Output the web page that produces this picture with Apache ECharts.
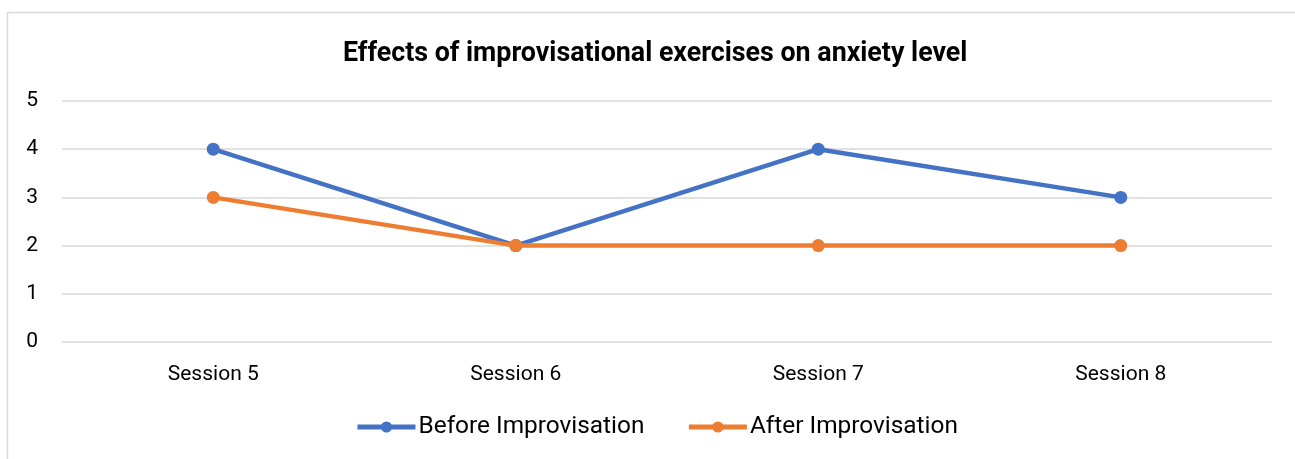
<!DOCTYPE html>
<html><head><meta charset="utf-8">
<script src="https://cdn.jsdelivr.net/npm/echarts@6/dist/echarts.min.js"></script>
<style>html,body{margin:0;padding:0;background:#fff;}#c{width:1295px;height:459px;}</style>
</head><body><div id="c"></div>
<script>
const categories = ["Session 5", "Session 6", "Session 7", "Session 8"];
const beforeValues = [4, 2, 4, 3];
const afterValues = [3, 2, 2, 2];
const yTicks = [0, 1, 2, 3, 4, 5];
const titleText = "Effects of improvisational exercises on anxiety level";

const chart = echarts.init(document.getElementById('c'), null, {renderer: 'canvas'});
const font = 'Roboto, "Liberation Sans", sans-serif';
const mkSeries = (name, data, color) => ({
  name, type: 'line', data,
  symbol: 'circle', symbolSize: 13,
  lineStyle: {width: 4.5, color},
  itemStyle: {color},
  emphasis: {disabled: true},
  z: name === 'After Improvisation' ? 3 : 2
});
chart.setOption({
  animation: false,
  backgroundColor: '#fff',
  graphic: [{type: 'rect', shape: {x: 7.5, y: 12.5, width: 1400, height: 500}, style: {fill: 'none', stroke: '#d9d9d9', lineWidth: 1.5}, silent: true, z: -1}],
  title: {text: titleText, left: 338, top: 36, textStyle: {fontFamily: font, fontSize: 26.8, fontWeight: 'bold', color: '#000'}},
  grid: {left: 62, right: 23, top: 101, bottom: 117, containLabel: false},
  legend: {
    bottom: 15, left: 350, itemWidth: 58, itemHeight: 14, itemGap: 42,
    lineStyle: {width: 5},
    textStyle: {fontFamily: font, fontSize: 24.4, color: '#000', padding: [0, 0, 0, -2]},
    data: ['Before Improvisation', 'After Improvisation']
  },
  xAxis: {
    type: 'category', data: categories, boundaryGap: true,
    axisLine: {show: false}, axisTick: {show: false},
    axisLabel: {fontFamily: font, fontSize: 21, color: '#000', margin: 22}
  },
  yAxis: {
    type: 'value', min: yTicks[0], max: yTicks[yTicks.length - 1], interval: 1,
    axisLine: {show: false}, axisTick: {show: false},
    axisLabel: {fontFamily: font, fontSize: 21, color: '#000', margin: 24},
    splitLine: {lineStyle: {color: '#d9d9d9', width: 1.5}}
  },
  series: [
    mkSeries('Before Improvisation', beforeValues, '#4472C4'),
    mkSeries('After Improvisation', afterValues, '#ED7D31')
  ]
});
</script></body></html>
